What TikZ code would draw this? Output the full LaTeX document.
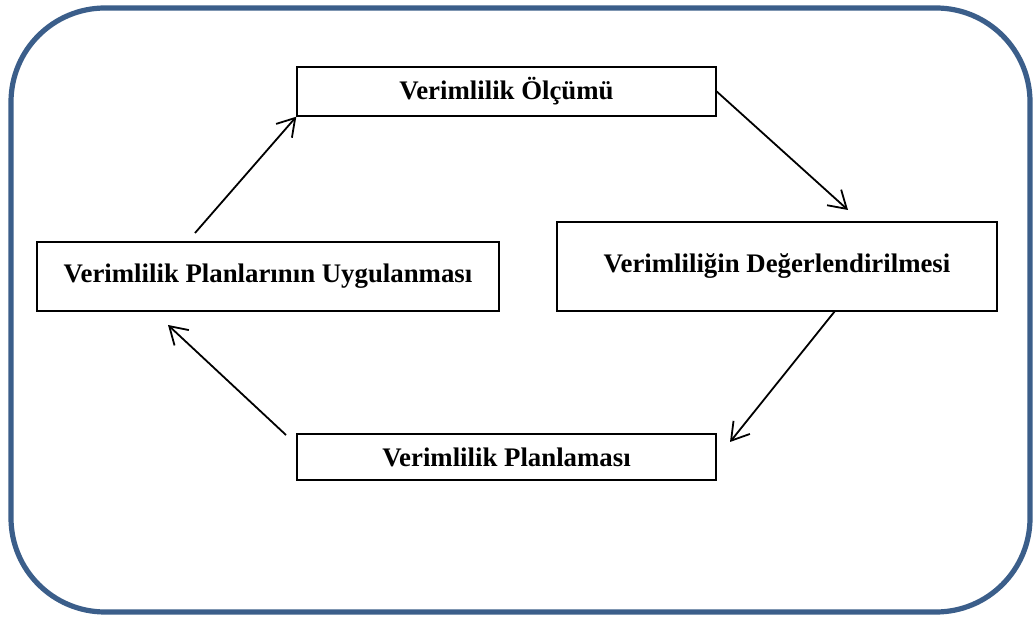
\documentclass[tikz,border=0pt]{standalone}
\usepackage{fontspec}
\setmainfont{Liberation Serif}
\usetikzlibrary{arrows.meta}
\definecolor{cadre}{RGB}{59,94,138}
\tikzset{
  etape/.style={draw, line width=0.7pt, inner sep=0pt, font=\bfseries\fontsize{13.4}{15}\selectfont},
  fleche/.style={line width=0.9pt, -{Straight Barb[length=8.5pt,width=10.5pt,line width=0.9pt]}}
}
\begin{document}
\begin{tikzpicture}[x=0.5pt,y=-0.5pt]
\useasboundingbox (0,0) rectangle (1033,619);
\fill [white] (0,0) rectangle (1033,619);
\draw [cadre, line width=2.6pt, rounded corners=47pt] (11,8) rectangle (1030,612);
% les quatre etapes
\node [etape, minimum width=209.5pt, minimum height=24.5pt] (olcum) at (506.5,91.5) {Verimlilik Ölçümü};
\node [etape, minimum width=220pt, minimum height=44.5pt] (deger) at (777,266.5) {Verimliliğin Değerlendirilmesi};
\node [etape, minimum width=209.5pt, minimum height=23pt] (plan) at (506.5,457) {Verimlilik Planlaması};
\node [etape, minimum width=231pt, minimum height=34.5pt] (uygula) at (268,276.5) {Verimlilik Planlarının Uygulanması};
% bouts libres des fleches
\coordinate (p1) at (848,210);
\coordinate (d2) at (835,311);
\coordinate (p2) at (730,442);
\coordinate (d3) at (286,435);
\coordinate (p3) at (168,325);
\coordinate (d4) at (195,233);
\draw [fleche] (olcum.east) -- (p1);
\draw [fleche] (d2) -- (p2);
\draw [fleche] (d3) -- (p3);
\draw [fleche] (d4) -- (olcum.south west);
\end{tikzpicture}
\end{document}
